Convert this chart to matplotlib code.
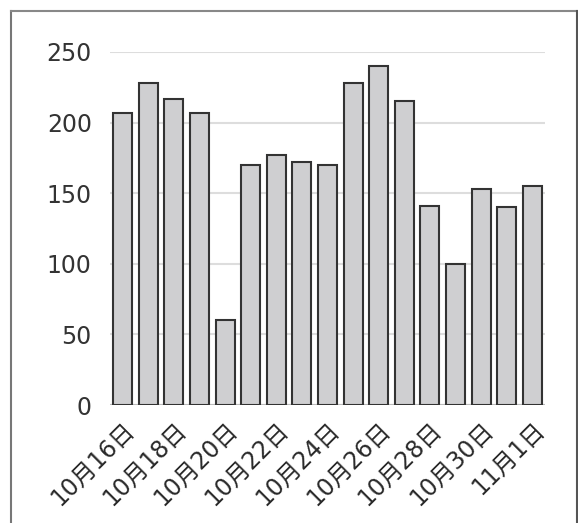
import matplotlib.pyplot as plt
from matplotlib.lines import Line2D

plt.rcParams['font.family'] = ['DejaVu Sans', 'Noto Sans CJK JP']

dates = ['10月16日', '10月17日', '10月18日', '10月19日', '10月20日', '10月21日',
         '10月22日', '10月23日', '10月24日', '10月25日', '10月26日', '10月27日',
         '10月28日', '10月29日', '10月30日', '10月31日', '11月1日']
values = [207, 228, 217, 207, 60, 170, 177, 172, 170, 228, 240, 215,
          141, 100, 153, 140, 155]
yticks = [0, 50, 100, 150, 200, 250]

fig = plt.figure(figsize=(5.78, 5.23), dpi=100)
ax = fig.add_axes([0.19, 0.2256, 0.753, 0.675])

x = list(range(len(values)))
ax.bar(x, values, width=0.74, color='#cfcfd1', edgecolor='#333333',
       linewidth=1.5, zorder=3)

ax.set_ylim(0, 250)
ax.set_xlim(-0.5, len(values) - 0.5)
ax.set_yticks(yticks)
ax.set_yticklabels([str(v) for v in yticks], fontsize=17, color='#333333')
ax.yaxis.grid(True, color='#dddddd', linewidth=1.5, zorder=0)
ax.set_axisbelow(True)

ax.set_xticks(x[::2])
ax.set_xticklabels(dates[::2], rotation=45, ha='right', rotation_mode='anchor',
                   fontsize=17, color='#2a2a2a')
ax.tick_params(axis='y', length=0, pad=13)
ax.tick_params(axis='x', length=0, pad=9)
for s in ax.spines.values():
    s.set_visible(False)
ax.axhline(0, color='#bbbbbb', linewidth=1.5, zorder=2)

# frame around the picture
W, H = 578, 523
fig.add_artist(Line2D([11 / W, 11 / W], [0, 1 - 11 / H], color='#777777', lw=1.5))
fig.add_artist(Line2D([11 / W, 576.5 / W], [1 - 11 / H, 1 - 11 / H], color='#888888', lw=1.5))
fig.add_artist(Line2D([576.5 / W, 576.5 / W], [0, 1 - 11 / H], color='#555555', lw=1.5))

fig.savefig('out.png', dpi=100)
